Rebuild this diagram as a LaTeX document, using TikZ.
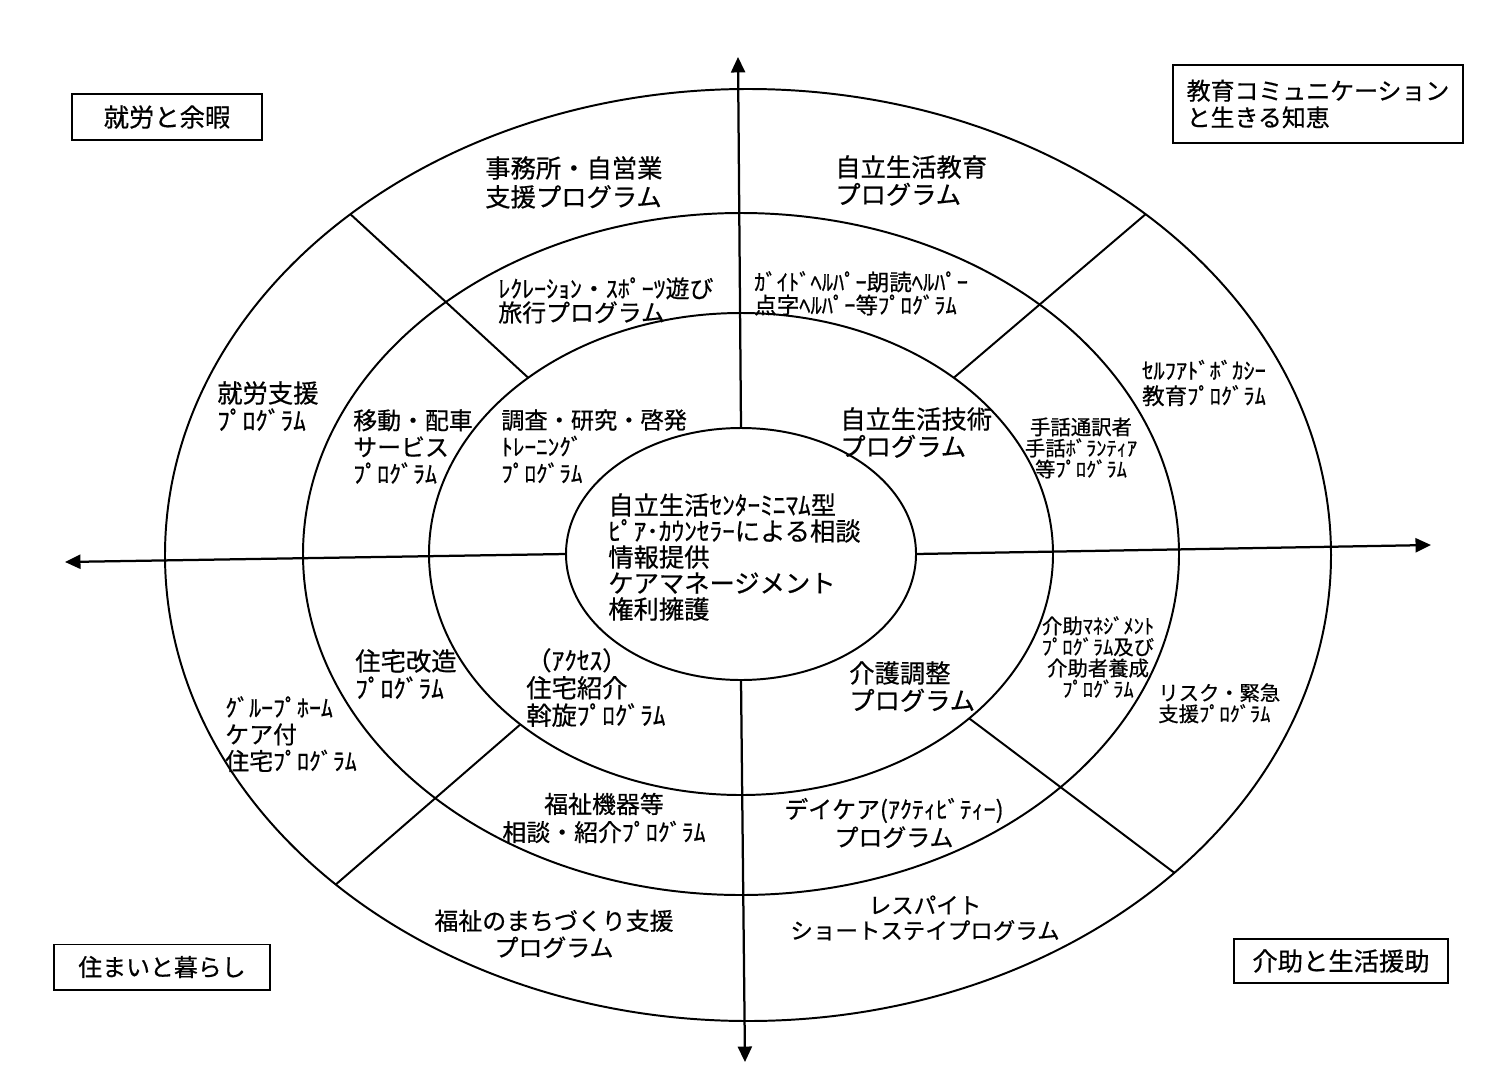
\documentclass[tikz,border=0pt]{standalone}
\usepackage{fontspec}
\setmainfont{Noto Sans CJK JP}[FakeBold=0.6]
\usetikzlibrary{arrows.meta}

\begin{document}
\begin{tikzpicture}[x=0.025cm, y=-0.025cm, >={Triangle[length=11pt, width=10pt]}]
  \tikzset{
    ring/.style={line width=1.4pt},
    axisline/.style={line width=1.6pt, ->},
    tagbox/.style={draw, line width=1.4pt, inner sep=0pt, align=left},
    lbl/.style={inner sep=0pt, align=left, anchor=north west},
    clbl/.style={inner sep=0pt, align=center},
    txtL/.style={font=\fontsize{18pt}{19.5pt}\selectfont},
    txtM/.style={font=\fontsize{17pt}{19pt}\selectfont},
    txtS/.style={font=\fontsize{14.5pt}{15pt}\selectfont}
  }
  \useasboundingbox (0,0) rectangle (1485,1072);
  \coordinate (c)  at (741,554);
  \coordinate (co) at (748,555);

  % rings
  \draw[ring] (co) ellipse [x radius=583, y radius=466];
  \draw[ring] (c) ellipse [x radius=438, y radius=341];
  \draw[ring] (c) ellipse [x radius=312, y radius=241];
  \draw[ring] (c) ellipse [x radius=175, y radius=126];

  % dividers
  \foreach \t in {43,135,227,313} {
    \path (co) ++(\t:583 and 466) coordinate (o\t);
    \path (c) ++(\t:312 and 241) coordinate (i\t);
    \draw[ring] (o\t) -- (i\t);
  }

  % axes
  \path (c) ++(270:175 and 126) coordinate (nN);
  \path (c) ++(90:175 and 126) coordinate (nS);
  \path (c) ++(180:175 and 126) coordinate (nW);
  \path (c) ++(0:175 and 126) coordinate (nE);
  \coordinate (tipN) at (738,57);
  \coordinate (tipS) at (745,1062);
  \coordinate (tipW) at (65,562);
  \coordinate (tipE) at (1431,545);
  \draw[axisline] (nN) -- (tipN);
  \draw[axisline] (nS) -- (tipS);
  \draw[axisline] (nW) -- (tipW);
  \draw[axisline] (nE) -- (tipE);

  % corner boxes
  \node[tagbox, txtL, minimum width=4.75cm, minimum height=1.15cm] (tagWork) at (167,117) {就労と余暇};
  \node[tagbox, font=\fontsize{17pt}{19pt}\selectfont, minimum width=7.25cm, minimum height=1.95cm] (tagEdu) at (1318,104) {教育コミュニケーション\\と生きる知恵};
  \node[tagbox, txtM, minimum width=5.4cm, minimum height=1.125cm] (tagHome) at (162,967) {住まいと暮らし};
  \node[tagbox, txtL, minimum width=5.35cm, minimum height=1.1cm] (tagCare) at (1341,961) {介助と生活援助};

  % outer ring
  \node[lbl, font=\fontsize{18pt}{20.5pt}\selectfont] (jimu) at (485,156) {事務所・自営業\\支援プログラム};
  \node[lbl, txtL] (kyoiku) at (835,155) {自立生活教育\\プログラム};
  \node[lbl, txtL] (shuro) at (217,381) {就労支援\\ﾌﾟﾛｸﾞﾗﾑ};
  \node[clbl, font=\fontsize{16pt}{18pt}\selectfont] (selfad) at (1204,383) {ｾﾙﾌｱﾄﾞﾎﾞｶｼｰ\\教育ﾌﾟﾛｸﾞﾗﾑ};
  \node[lbl, txtM] (group) at (225,696) {ｸﾞﾙｰﾌﾟﾎｰﾑ\\ケア付\\住宅ﾌﾟﾛｸﾞﾗﾑ};
  \node[lbl, txtS] (risk) at (1158,683) {リスク・緊急\\支援ﾌﾟﾛｸﾞﾗﾑ};
  \node[clbl, txtM] (machi) at (554,934) {福祉のまちづくり支援\\プログラム};
  \node[clbl, font=\fontsize{16pt}{18pt}\selectfont] (respite) at (925,918) {レスパイト\\ショートステイプログラム};

  % middle ring
  \node[lbl, font=\fontsize{17pt}{17pt}\selectfont] (recre) at (498,277) {ﾚｸﾚｰｼｮﾝ・ｽﾎﾟｰﾂ遊び\\旅行プログラム};
  \node[lbl, font=\fontsize{16pt}{16.5pt}\selectfont] (guide) at (754,271) {ｶﾞｲﾄﾞﾍﾙﾊﾟｰ朗読ﾍﾙﾊﾟｰ\\点字ﾍﾙﾊﾟｰ等ﾌﾟﾛｸﾞﾗﾑ};
  \node[lbl, txtM] (idou) at (353,409) {移動・配車\\サービス\\ﾌﾟﾛｸﾞﾗﾑ};
  \node[clbl, txtS] (shuwa) at (1081,448) {手話通訳者\\手話ﾎﾞﾗﾝﾃｨｱ\\等ﾌﾟﾛｸﾞﾗﾑ};
  \node[lbl, txtL] (kaizo) at (355,649) {住宅改造\\ﾌﾟﾛｸﾞﾗﾑ};
  \node[clbl, txtS] (kaijo) at (1098,657) {介助ﾏﾈｼﾞﾒﾝﾄ\\ﾌﾟﾛｸﾞﾗﾑ及び\\介助者養成\\ﾌﾟﾛｸﾞﾗﾑ};
  \node[clbl, font=\fontsize{17pt}{20pt}\selectfont] (kiki) at (604,818) {福祉機器等\\相談・紹介ﾌﾟﾛｸﾞﾗﾑ};
  \node[clbl, font=\fontsize{17pt}{20pt}\selectfont] (daycare) at (894,823) {デイケア(ｱｸﾃｨﾋﾞﾃｨｰ)\\プログラム};

  % inner ring
  \node[lbl, font=\fontsize{16.5pt}{19pt}\selectfont] (chousa) at (501,409) {調査・研究・啓発\\ﾄﾚｰﾆﾝｸﾞ\\ﾌﾟﾛｸﾞﾗﾑ};
  \node[lbl, txtL] (gijutsu) at (840,407) {自立生活技術\\プログラム};
  \node[lbl, txtL] (access) at (526,648) {（ｱｸｾｽ）\\住宅紹介\\斡旋ﾌﾟﾛｸﾞﾗﾑ};
  \node[lbl, txtL] (kaigo) at (849,661) {介護調整\\プログラム};

  % core
  \node[lbl, font=\fontsize{18pt}{18.5pt}\selectfont] (core) at (608,493) {自立生活ｾﾝﾀｰﾐﾆﾏﾑ型\\ﾋﾟｱ･ｶｳﾝｾﾗｰによる相談\\情報提供\\ケアマネージメント\\権利擁護};
\end{tikzpicture}
\end{document}
